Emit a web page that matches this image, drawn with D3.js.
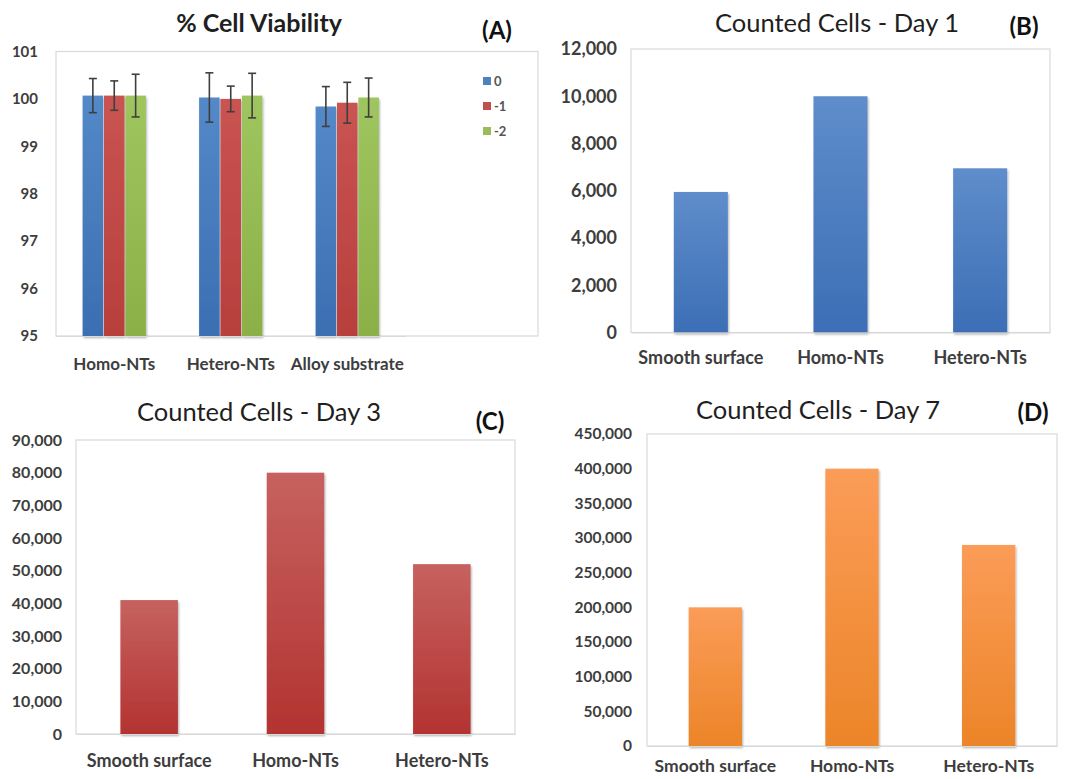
<!DOCTYPE html>
<html>
<head>
<meta charset="utf-8">
<script src="https://cdn.jsdelivr.net/npm/d3@7"></script>
<style>
  html, body { margin: 0; padding: 0; background: #fff; }
  svg { display: block; font-family: Lato, "Open Sans", sans-serif; }
</style>
</head>
<body>
<svg id="chart" width="1070" height="779"></svg>
<script>
// ---------- Data ----------
// Panel A: % Cell Viability
const viabilityCategories = ["Homo-NTs", "Hetero-NTs", "Alloy substrate"];
const viabilitySeries = ["0", "-1", "-2"];
const viabilityValues = [
  [100.07, 100.07, 100.07],   // Homo-NTs  (0, -1, -2)
  [100.03, 100.00, 100.07],   // Hetero-NTs
  [99.84, 99.92, 100.03]      // Alloy substrate
];
const viabilityErrors = [
  [0.36, 0.31, 0.45],
  [0.52, 0.27, 0.47],
  [0.42, 0.43, 0.41]
];
const viabilityTicks = [95, 96, 97, 98, 99, 100, 101];

// Panels B, C, D: counted cells
const cellCategories = ["Smooth surface", "Homo-NTs", "Hetero-NTs"];
const day1Values = [5950, 10000, 6950];
const day3Values = [41000, 80000, 52000];
const day7Values = [200000, 400000, 290000];
const day1Ticks = [0, 2000, 4000, 6000, 8000, 10000, 12000];
const day3Ticks = [0, 10000, 20000, 30000, 40000, 50000, 60000, 70000, 80000, 90000];
const day7Ticks = [0, 50000, 100000, 150000, 200000, 250000, 300000, 350000, 400000, 450000];

// ---------- Setup ----------
const svg = d3.select("#chart");
const defs = svg.append("defs");
const TICK_COLOR = "#3d3d3d";
const BORDER = "#d9d9d9";

function gradient(id, top, bottom) {
  const g = defs.append("linearGradient").attr("id", id)
    .attr("x1", 0).attr("y1", 0).attr("x2", 0).attr("y2", 1);
  g.append("stop").attr("offset", "0%").attr("stop-color", top);
  g.append("stop").attr("offset", "100%").attr("stop-color", bottom);
}
gradient("gBlue", "#5f8dcb", "#3c6eb5");
gradient("gRed", "#c6625f", "#b33331");
gradient("gOrange", "#fb9c58", "#ec8528");
gradient("gAblue", "#5489c8", "#3b6eb2");
gradient("gAred", "#c95452", "#b73f3c");
gradient("gAgreen", "#9fc55f", "#8bb047");

const shadow = defs.append("filter").attr("id", "shadow")
  .attr("x", "-20%").attr("y", "-5%").attr("width", "140%").attr("height", "115%");
shadow.append("feDropShadow").attr("dx", 1).attr("dy", 2)
  .attr("stdDeviation", 1.3).attr("flood-color", "#000").attr("flood-opacity", 0.3);

// ---------- Generic simple bar panel ----------
function barPanel(opts) {
  const g = svg.append("g");
  const { left, top, right, bottom } = opts.box;

  g.append("rect").attr("x", left).attr("y", top)
    .attr("width", right - left).attr("height", bottom - top)
    .attr("fill", "#fff").attr("stroke", BORDER).attr("stroke-width", 1.2);

  const x = d3.scaleBand().domain(opts.categories)
    .range([left, right]).paddingInner(opts.pad).paddingOuter(opts.pad / 2);
  const y = d3.scaleLinear().domain([0, d3.max(opts.ticks)]).range([bottom, top]);

  g.selectAll("rect.bar").data(opts.values).join("rect")
    .attr("class", "bar")
    .attr("x", (d, i) => x(opts.categories[i]))
    .attr("width", x.bandwidth())
    .attr("y", d => y(d))
    .attr("height", d => y(0) - y(d))
    .attr("fill", opts.fill)
    .attr("filter", "url(#shadow)");

  const ya = g.append("g").attr("transform", `translate(${left},0)`)
    .call(d3.axisLeft(y).tickValues(opts.ticks).tickFormat(d3.format(",")).tickSize(0).tickPadding(opts.yPad));
  ya.select(".domain").remove();
  ya.selectAll("text").attr("fill", TICK_COLOR).attr("font-size", opts.tickSize + "px")
    .attr("font-weight", 700).attr("font-family", "Lato, sans-serif");

  const xa = g.append("g").attr("transform", `translate(0,${bottom})`)
    .call(d3.axisBottom(x).tickSize(0).tickPadding(opts.xPad));
  xa.select(".domain").attr("stroke", BORDER).attr("stroke-width", 1.2);
  xa.selectAll("text").attr("fill", TICK_COLOR).attr("font-size", opts.labelSize + "px")
    .attr("font-weight", 700).attr("font-family", "Lato, sans-serif");

  g.append("text").attr("x", opts.title.x).attr("y", opts.title.y)
    .attr("text-anchor", "middle").attr("font-size", opts.title.size + "px")
    .attr("fill", "#1f1f1f").attr("font-family", "Lato, sans-serif")
    .text(opts.title.text);
  g.append("text").attr("x", opts.tag.x).attr("y", opts.tag.y)
    .attr("text-anchor", "middle").attr("font-size", "24px").attr("font-weight", 700)
    .attr("fill", "#111").attr("font-family", "Lato, sans-serif")
    .text(opts.tag.text);
}

// ---------- Panel A (grouped with error bars) ----------
(function () {
  const left = 56, top = 51.5, right = 538, bottom = 336;
  const g = svg.append("g");
  g.append("rect").attr("x", left).attr("y", top)
    .attr("width", right - left).attr("height", bottom - top)
    .attr("fill", "#fff").attr("stroke", BORDER).attr("stroke-width", 1.2);

  const x0 = d3.scaleBand().domain(viabilityCategories).range([left, 405.5])
    .paddingInner(0.442).paddingOuter(0.221);
  const x1 = d3.scaleBand().domain(viabilitySeries).range([0, x0.bandwidth()]).padding(0.04);
  const y = d3.scaleLinear().domain([95, 101]).range([bottom, top]);
  const fills = ["url(#gAblue)", "url(#gAred)", "url(#gAgreen)"];
  const legendColors = ["#4f81bd", "#c0504d", "#9bbb59"];

  const groups = g.selectAll("g.grp").data(viabilityCategories).join("g")
    .attr("class", "grp").attr("transform", d => `translate(${x0(d)},0)`);

  groups.each(function (cat, ci) {
    const gg = d3.select(this);
    const rows = viabilitySeries.map((s, si) => ({ s, si, v: viabilityValues[ci][si], e: viabilityErrors[ci][si] }));
    gg.selectAll("rect").data(rows).join("rect")
      .attr("x", d => x1(d.s)).attr("width", x1.bandwidth())
      .attr("y", d => y(d.v)).attr("height", d => y(95) - y(d.v))
      .attr("fill", d => fills[d.si]).attr("filter", "url(#shadow)");
    const eb = gg.selectAll("g.err").data(rows).join("g").attr("class", "err")
      .attr("stroke", "#3f3f3f").attr("stroke-width", 1.6);
    eb.append("line")
      .attr("x1", d => x1(d.s) + x1.bandwidth() / 2).attr("x2", d => x1(d.s) + x1.bandwidth() / 2)
      .attr("y1", d => y(d.v + d.e)).attr("y2", d => y(d.v - d.e));
    eb.append("line")
      .attr("x1", d => x1(d.s) + x1.bandwidth() / 2 - 4).attr("x2", d => x1(d.s) + x1.bandwidth() / 2 + 4)
      .attr("y1", d => y(d.v + d.e)).attr("y2", d => y(d.v + d.e));
    eb.append("line")
      .attr("x1", d => x1(d.s) + x1.bandwidth() / 2 - 4).attr("x2", d => x1(d.s) + x1.bandwidth() / 2 + 4)
      .attr("y1", d => y(d.v - d.e)).attr("y2", d => y(d.v - d.e));
  });

  const ya = g.append("g").attr("transform", `translate(${left},0)`)
    .call(d3.axisLeft(y).tickValues(viabilityTicks).tickFormat(d3.format("d")).tickSize(0).tickPadding(18));
  ya.select(".domain").remove();
  ya.selectAll("text").attr("fill", TICK_COLOR).attr("font-size", "15px")
    .attr("font-weight", 700).attr("font-family", "Lato, sans-serif");

  const xa = g.append("g").attr("transform", `translate(0,${bottom})`)
    .call(d3.axisBottom(x0).tickSize(0).tickPadding(22));
  xa.select(".domain").attr("stroke", BORDER).attr("stroke-width", 1.2);
  xa.selectAll("text").attr("fill", TICK_COLOR).attr("font-size", "17px")
    .attr("font-weight", 700).attr("font-family", "Lato, sans-serif");

  // legend
  const lg = g.append("g").selectAll("g").data(viabilitySeries).join("g")
    .attr("transform", (d, i) => `translate(483,${81 + i * 25})`);
  lg.append("rect").attr("x", 0).attr("y", -4).attr("width", 8).attr("height", 8)
    .attr("fill", (d, i) => legendColors[i]);
  lg.append("text").attr("x", 11).attr("y", 0).attr("dy", "0.35em")
    .attr("font-size", "13px").attr("font-weight", 700).attr("fill", "#555")
    .attr("font-family", "Lato, sans-serif").text(d => d);

  g.append("text").attr("x", 259).attr("y", 32).attr("text-anchor", "middle")
    .attr("font-size", "25px").attr("font-weight", 700).attr("fill", "#1f1f1f")
    .attr("font-family", "Lato, sans-serif").text("% Cell Viability");
  g.append("text").attr("x", 497).attr("y", 39).attr("text-anchor", "middle")
    .attr("font-size", "24px").attr("font-weight", 700).attr("fill", "#111")
    .attr("font-family", "Lato, sans-serif").text("(A)");
})();

// ---------- Panels B, C, D ----------
barPanel({
  box: { left: 631, top: 49, right: 1050, bottom: 332.5 },
  categories: cellCategories, values: day1Values, ticks: day1Ticks,
  pad: 0.613, fill: "url(#gBlue)", yPad: 14, xPad: 19, tickSize: 18, labelSize: 18,
  title: { text: "Counted Cells - Day 1", x: 837, y: 32, size: 25.5 },
  tag: { text: "(B)", x: 1024, y: 35 }
});
barPanel({
  box: { left: 76, top: 440, right: 515, bottom: 734 },
  categories: cellCategories, values: day3Values, ticks: day3Ticks,
  pad: 0.607, fill: "url(#gRed)", yPad: 14, xPad: 20, tickSize: 16, labelSize: 18,
  title: { text: "Counted Cells - Day 3", x: 259, y: 421, size: 25.5 },
  tag: { text: "(C)", x: 490, y: 430 }
});
barPanel({
  box: { left: 647, top: 434, right: 1057, bottom: 746 },
  categories: cellCategories, values: day7Values, ticks: day7Ticks,
  pad: 0.61, fill: "url(#gOrange)", yPad: 15, xPad: 14, tickSize: 15.5, labelSize: 17.5,
  title: { text: "Counted Cells - Day 7", x: 818, y: 419, size: 25.5 },
  tag: { text: "(D)", x: 1033, y: 421 }
});
</script>
</body>
</html>
